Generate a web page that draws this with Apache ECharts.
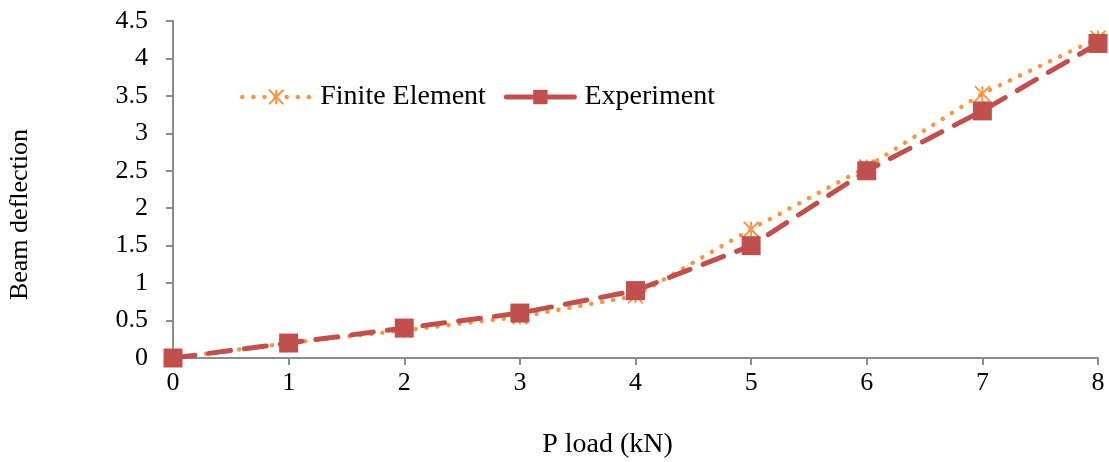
<!DOCTYPE html>
<html><head><meta charset="utf-8">
<script src="https://cdn.jsdelivr.net/npm/echarts@6/dist/echarts.min.js"></script>
<style>html,body{margin:0;padding:0;background:#fff}#c{width:1109px;height:462px}</style>
</head><body><div id="c"></div>
<script>
const loads = [0, 1, 2, 3, 4, 5, 6, 7, 8];
const finiteElement = [0, 0.2, 0.37, 0.55, 0.83, 1.72, 2.55, 3.53, 4.27];
const experiment = [0, 0.2, 0.4, 0.6, 0.9, 1.5, 2.5, 3.3, 4.2];
const yTicks = ['0', '0.5', '1', '1.5', '2', '2.5', '3', '3.5', '4', '4.5'];

const font = 'Liberation Serif, Times New Roman, serif';
const starPath = 'path://M0,0L10,10M10,0L0,10M5,0L5,10';
const orange = '#F79646', red = '#C0504D';
const feLine = { color: orange, width: 4.5, type: [0.1, 11], cap: 'round' };
const exLine = { color: red, width: 5, type: [22, 14], cap: 'round' };
const chart = echarts.init(document.getElementById('c'));
chart.setOption({
  animation: false,
  textStyle: { fontFamily: font, color: '#000' },
  grid: { left: 173, right: 11, top: 21, bottom: 104, containLabel: false, outerBoundsMode: 'none' },
  legend: {
    left: 235, top: 78, itemWidth: 68, itemHeight: 18, itemGap: 18,
    textStyle: { fontFamily: font, fontSize: 28, color: '#000', padding: [0, 0, 0, 5] },
    data: [
      { name: 'Finite Element', lineStyle: feLine },
      { name: 'Experiment', lineStyle: { color: red, width: 5, type: 'solid', cap: 'round' } }
    ]
  },
  xAxis: {
    type: 'value', min: 0, max: 8, interval: 1,
    name: 'P load (kN)', nameLocation: 'middle', nameGap: 73,
    nameTextStyle: { fontFamily: font, fontSize: 28, color: '#000', padding: [0, 56, 0, 0] },
    axisLine: { lineStyle: { color: '#8c8c8c', width: 2 } },
    axisTick: { show: true, length: 7, lineStyle: { color: '#8c8c8c', width: 2 } },
    axisLabel: { margin: 12, fontSize: 26, color: '#000', fontFamily: font },
    splitLine: { show: false }
  },
  yAxis: {
    type: 'value', min: 0, max: 4.5, interval: 0.5,
    name: 'Beam deflection', nameLocation: 'middle', nameGap: 140,
    nameTextStyle: { fontFamily: font, fontSize: 26, color: '#000', padding: [0, 50, 0, 0] },
    axisLine: { show: true, lineStyle: { color: '#8c8c8c', width: 2 } },
    axisTick: { show: true, length: 7, lineStyle: { color: '#8c8c8c', width: 2 } },
    axisLabel: { margin: 25, fontSize: 26, color: '#000', fontFamily: font,
      formatter: (v) => yTicks[Math.round(v / 0.5)] },
    splitLine: { show: false }
  },
  series: [
    {
      name: 'Finite Element', type: 'line', z: 2,
      data: loads.map((x, i) => [x, finiteElement[i]]),
      symbol: starPath, symbolSize: 15,
      itemStyle: { color: orange, borderColor: orange, borderWidth: 2 },
      lineStyle: feLine
    },
    {
      name: 'Experiment', type: 'line', z: 3,
      data: loads.map((x, i) => [x, experiment[i]]),
      symbol: 'rect', symbolSize: 19,
      itemStyle: { color: red },
      lineStyle: exLine
    }
  ]
});
</script></body></html>
